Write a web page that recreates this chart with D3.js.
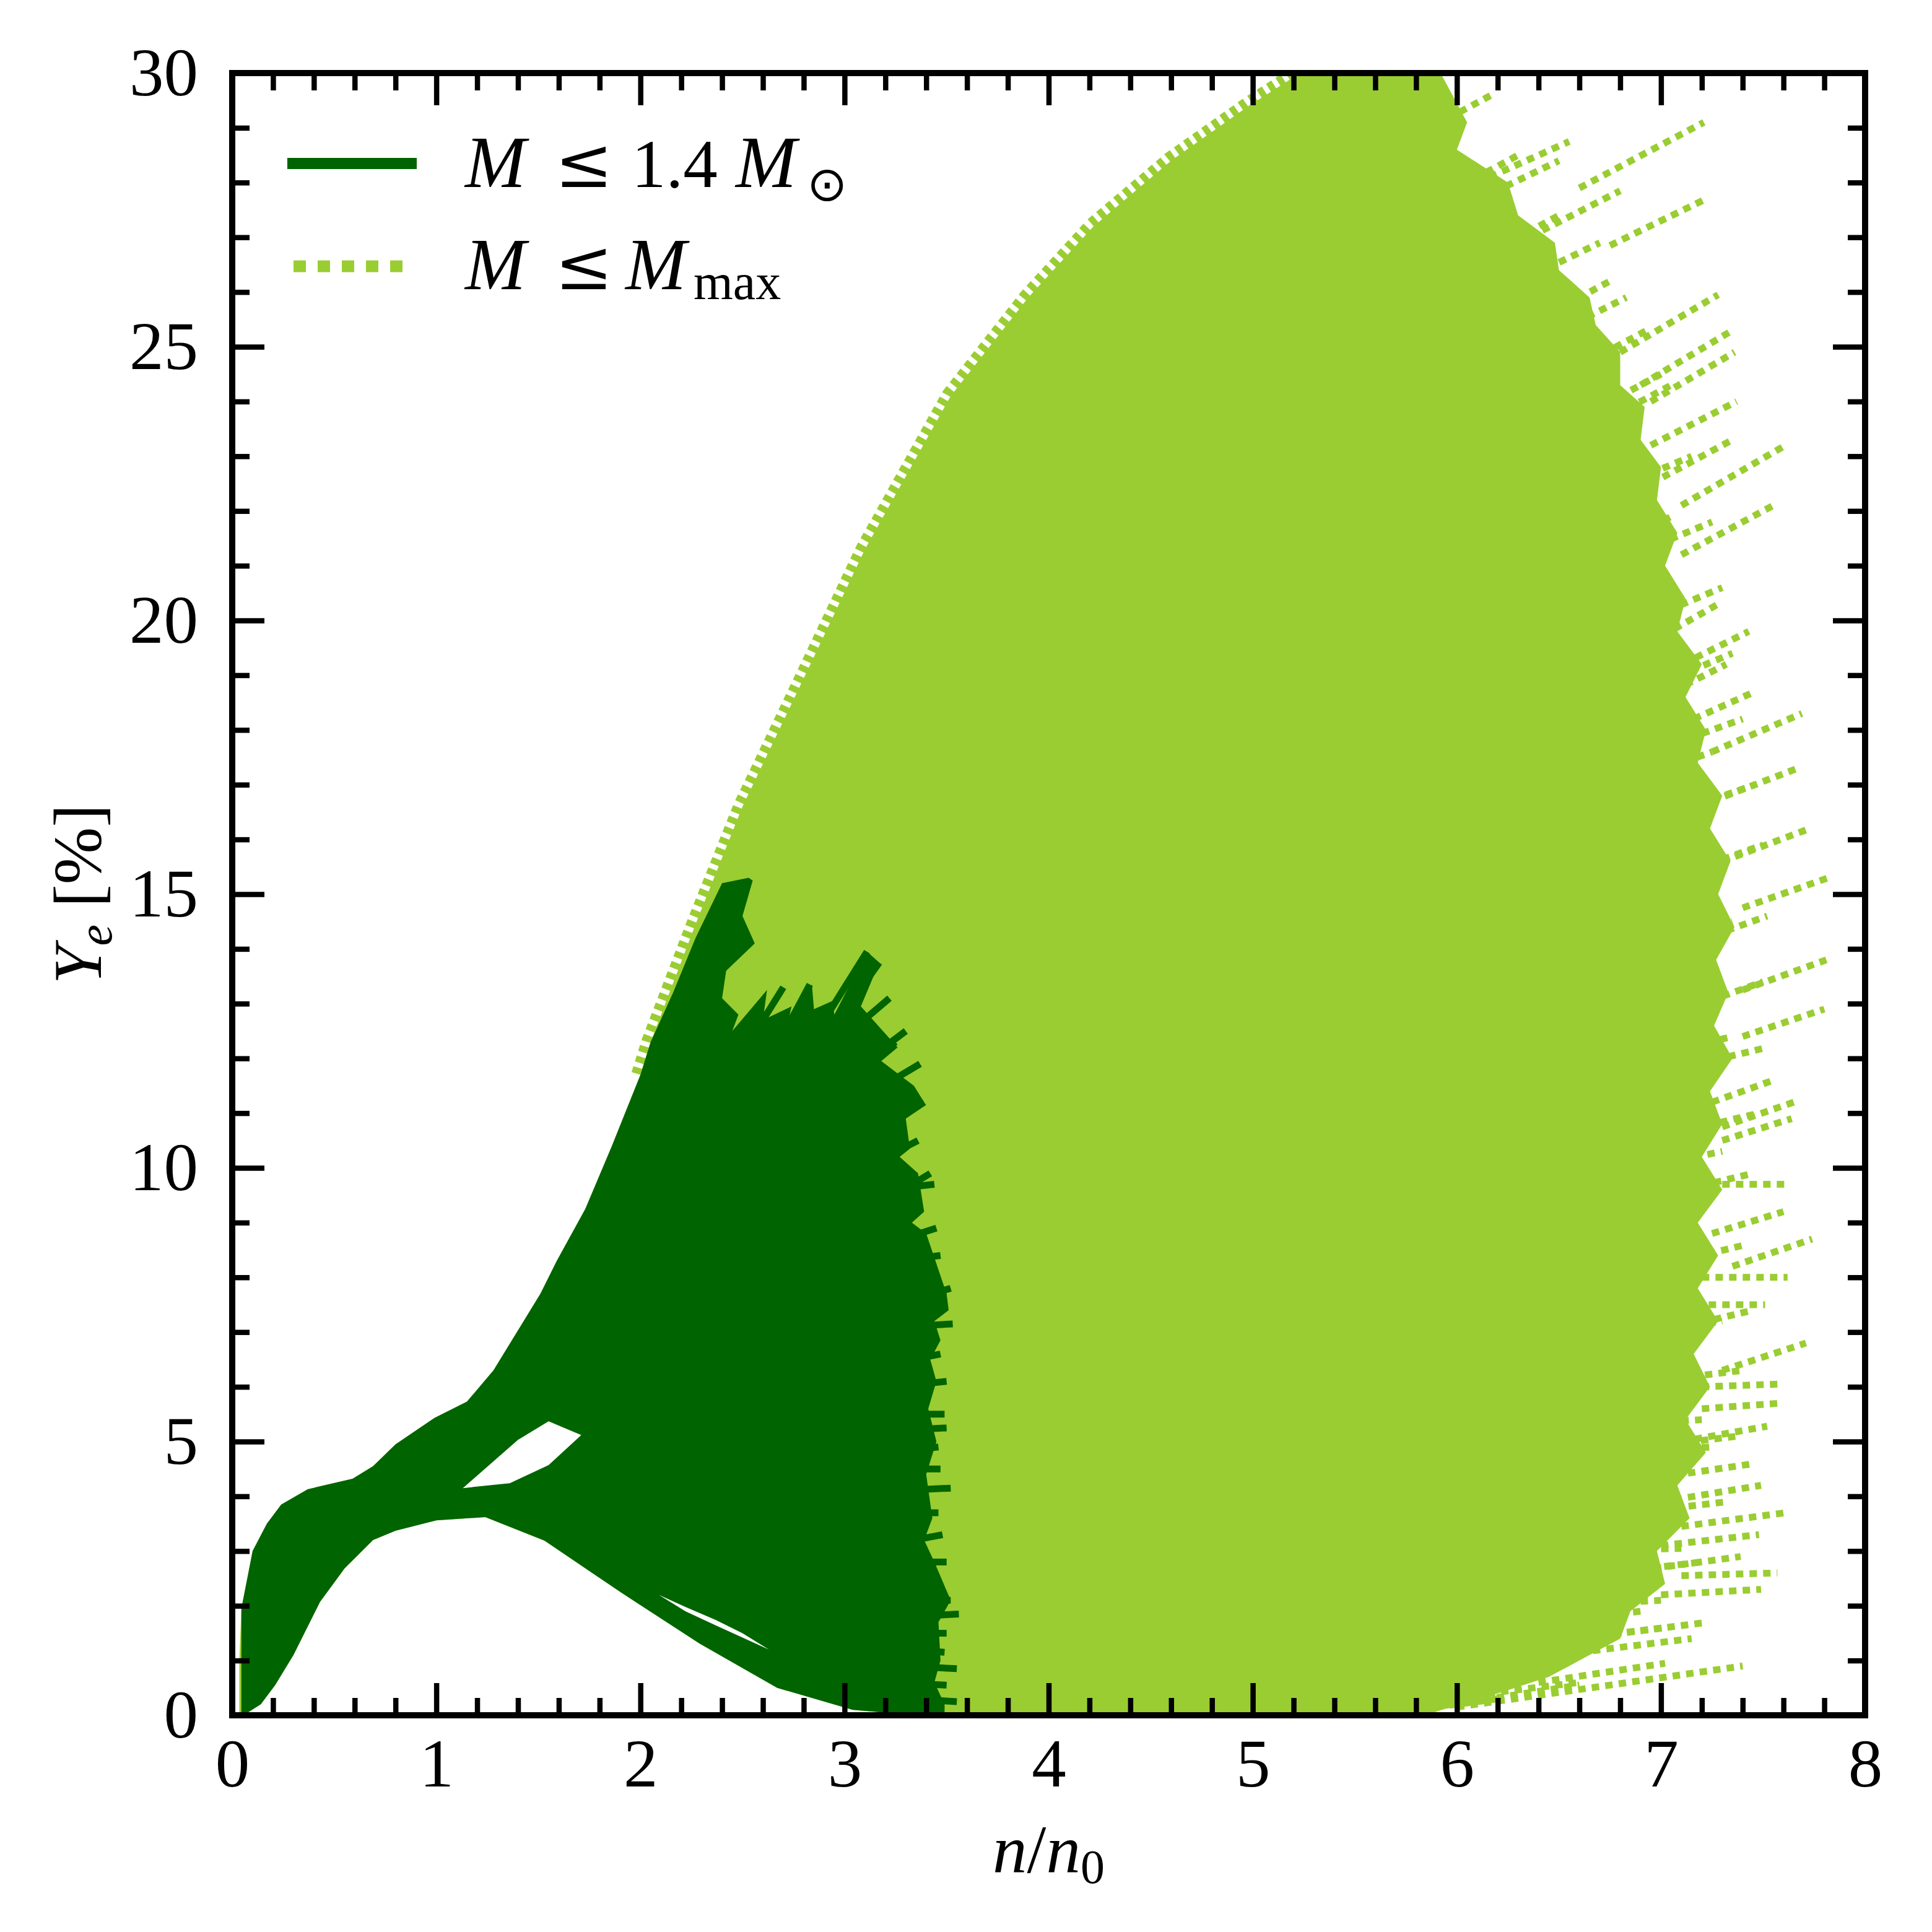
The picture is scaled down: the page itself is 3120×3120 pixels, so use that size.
<!DOCTYPE html>
<html>
<head>
<meta charset="utf-8">
<script src="https://cdn.jsdelivr.net/npm/d3@7"></script>
<style>
  html, body { margin: 0; padding: 0; background: #fff; }
  svg { display: block; }
  text { font-family: "Liberation Serif", "DejaVu Serif", serif; fill: #000; }
</style>
</head>
<body>
<script>
// ---------------- data (n/n0, Ye %) ----------------
const xMajorTicks = [0, 1, 2, 3, 4, 5, 6, 7, 8];
const xTickLabels = ["0", "1", "2", "3", "4", "5", "6", "7", "8"];
const yMajorTicks = [0, 5, 10, 15, 20, 25, 30];
const yTickLabels = ["0", "5", "10", "15", "20", "25", "30"];

// upper envelope of all curves (M <= Mmax)
const lightUpper = [
  [0.035, 0], [0.035, 1.0], [0.045, 1.95], [0.1, 3.0], [0.17, 3.5], [0.24, 3.85],
  [0.37, 4.13], [0.59, 4.32], [0.69, 4.55], [0.8, 4.95], [0.99, 5.43], [1.15, 5.73],
  [1.28, 6.3], [1.51, 7.7], [1.59, 8.3], [1.73, 9.25], [1.86, 10.4], [2.0, 11.7],
  [2.05, 12.3], [2.27, 14.45], [2.5, 16.6], [2.82, 19.1], [3.1, 21.3], [3.52, 24.1],
  [3.9, 25.9], [4.22, 27.2], [4.6, 28.4], [4.98, 29.4], [5.19, 29.9], [5.4, 30.6]
];
// right edge of the dense M <= Mmax bundle, top to bottom
const lightRight = [
  [6.0, 31], [5.92, 30], [6.05, 29.1], [6.0, 28.6], [6.25, 28.0], [6.3, 27.4], [6.48, 26.9],
  [6.5, 26.4], [6.65, 25.9], [6.68, 25.4], [6.8, 24.9], [6.8, 24.3], [6.92, 23.9], [6.9, 23.3],
  [7.0, 22.8], [6.98, 22.2], [7.08, 21.6], [7.02, 21.0], [7.12, 20.4], [7.08, 19.8],
  [7.2, 19.2], [7.12, 18.6], [7.22, 18.0], [7.18, 17.4], [7.3, 16.8], [7.24, 16.2],
  [7.34, 15.6], [7.28, 15.0], [7.36, 14.4], [7.27, 13.8], [7.33, 13.2], [7.26, 12.6],
  [7.35, 12.0], [7.24, 11.4], [7.3, 10.8], [7.2, 10.2], [7.3, 9.6], [7.18, 9.0],
  [7.28, 8.4], [7.18, 7.8], [7.28, 7.2], [7.16, 6.6], [7.24, 6.0], [7.12, 5.4],
  [7.22, 4.8], [7.08, 4.2], [7.14, 3.6], [6.98, 3.0], [7.02, 2.4], [6.85, 1.9],
  [6.8, 1.4], [6.6, 1.0], [6.45, 0.7], [6.2, 0.4], [6.0, 0.2], [5.85, 0]
];
// individual dotted curve ends sticking out of the bundle: [n0, Ye0, n1, Ye1]
const lightTails = [
  [5.3, 28.9, 5.72, 30.2], [5.5, 28.9, 5.95, 30.1], [5.6, 29.2, 5.85, 30.0],
  [6.1, 28.0, 6.55, 28.75], [6.6, 27.9, 7.21, 29.1], [6.3, 26.9, 6.8, 27.85],
  [6.75, 26.85, 7.22, 27.7], [6.4, 25.1, 6.83, 25.9], [6.8, 24.9, 7.28, 25.95],
  [6.9, 24.3, 7.35, 25.3], [6.95, 24.0, 7.36, 24.9], [6.95, 23.2, 7.37, 24.0],
  [6.95, 22.5, 7.35, 23.3], [7.1, 22.1, 7.61, 23.2], [7.1, 21.2, 7.55, 22.1],
  [6.95, 19.6, 7.28, 20.3], [7.05, 19.1, 7.43, 19.8], [7.0, 18.6, 7.32, 19.2],
  [7.1, 18.1, 7.46, 18.7], [7.25, 17.6, 7.69, 18.3], [7.25, 16.7, 7.67, 17.3],
  [7.3, 15.6, 7.73, 16.2], [7.4, 14.75, 7.82, 15.3], [7.4, 13.25, 7.81, 13.8],
  [7.4, 12.4, 7.8, 12.9], [7.25, 11.2, 7.55, 11.6], [7.3, 10.75, 7.65, 11.2],
  [7.3, 10.5, 7.64, 10.9], [7.1, 9.7, 7.61, 9.7], [7.25, 8.8, 7.6, 9.2],
  [7.35, 8.2, 7.74, 8.7], [7.2, 8.0, 7.62, 8.0], [7.1, 7.5, 7.51, 7.5],
  [7.3, 6.3, 7.71, 6.8], [7.2, 6.0, 7.58, 6.05], [7.2, 5.6, 7.58, 5.7],
  [7.1, 5.0, 7.52, 5.28], [7.0, 4.35, 7.46, 4.6], [7.0, 3.9, 7.49, 4.2],
  [7.1, 3.45, 7.61, 3.7], [7.0, 3.1, 7.48, 3.3], [6.9, 2.65, 7.39, 2.9],
  [7.1, 2.55, 7.57, 2.6], [7.0, 2.2, 7.49, 2.3], [6.7, 1.45, 7.23, 1.7],
  [6.6, 1.15, 7.15, 1.4], [6.4, 0.6, 7.02, 0.95], [6.0, 0.15, 7.4, 0.9],
  [5.8, 0.1, 6.6, 0.55], [6.0, 27.5, 6.5, 28.4], [6.2, 26.0, 6.7, 26.9],
  [6.5, 23.5, 7.0, 24.5], [6.6, 21.0, 7.05, 21.9], [6.8, 17.0, 7.25, 17.6],
  [6.9, 14.0, 7.35, 14.5], [6.9, 12.0, 7.35, 12.4], [6.9, 10.0, 7.3, 10.3],
  [6.9, 7.0, 7.3, 7.2], [6.8, 4.8, 7.25, 4.9], [6.5, 2.0, 7.0, 2.1], [6.2, 1.6, 6.9, 1.9],
  [5.7, 0.05, 6.2, 0.3], [6.6, 3.0, 7.1, 3.05], [6.7, 5.3, 7.2, 5.4], [6.75, 9.0, 7.2, 9.3],
  [6.8, 11.0, 7.25, 11.4], [6.75, 15.0, 7.2, 15.6], [6.6, 19.0, 7.05, 19.6],
  [5.72, 28.7, 6.17, 29.6], [5.85, 27.6, 6.3, 28.5], [6.05, 26.5, 6.5, 27.4],
  [6.3, 25.3, 6.75, 26.2], [6.48, 24.4, 6.93, 25.3], [6.6, 23.4, 7.05, 24.3],
  [6.7, 22.3, 7.15, 23.0], [6.8, 21.1, 7.25, 21.8], [6.85, 19.9, 7.3, 20.6],
  [6.9, 18.7, 7.35, 19.4], [6.95, 17.6, 7.4, 18.2], [7.0, 16.4, 7.46, 17.0],
  [7.05, 15.3, 7.5, 15.9], [7.07, 14.0, 7.52, 14.6], [7.05, 12.8, 7.5, 13.4],
  [7.07, 11.8, 7.52, 12.2], [7.03, 10.6, 7.48, 11.0], [7.0, 9.5, 7.45, 9.9],
  [6.97, 8.2, 7.42, 8.6], [7.0, 7.0, 7.45, 7.4], [6.95, 6.1, 7.4, 6.3],
  [6.93, 4.9, 7.38, 5.1], [6.87, 3.7, 7.32, 3.9], [6.75, 2.6, 7.2, 2.8],
  [6.57, 1.4, 7.02, 1.6], [6.15, 0.4, 6.6, 0.6]
];

// M <= 1.4 Msun bundle
const darkUpper = [
  [0.045, 0], [0.045, 1.95], [0.1, 3.0], [0.17, 3.5], [0.24, 3.85], [0.37, 4.13],
  [0.59, 4.32], [0.69, 4.55], [0.8, 4.95], [0.99, 5.43], [1.15, 5.73], [1.28, 6.3],
  [1.51, 7.7], [1.59, 8.3], [1.73, 9.25], [1.86, 10.4], [2.0, 11.7], [2.05, 12.3],
  [2.16, 13.2], [2.27, 14.2], [2.4, 15.2], [2.53, 15.3]
];
const darkRight = [
  [2.55, 15.25], [2.5, 14.6], [2.56, 14.1], [2.42, 13.6], [2.4, 13.1], [2.48, 12.8],
  [2.45, 12.5], [2.62, 13.25], [2.6, 12.7], [2.74, 12.95], [2.72, 12.6], [2.84, 13.35],
  [2.85, 12.9], [2.94, 13.05], [2.95, 12.8], [3.11, 13.95], [3.17, 13.75], [3.08, 12.95],
  [3.26, 12.2], [3.18, 11.95], [3.34, 11.5], [3.39, 11.2], [3.3, 10.9], [3.32, 10.35],
  [3.27, 10.2], [3.36, 9.9], [3.39, 9.2], [3.33, 9.0], [3.4, 8.8], [3.5, 7.7],
  [3.51, 7.4], [3.44, 7.2], [3.47, 6.85], [3.42, 6.5], [3.45, 6.1], [3.41, 5.6],
  [3.45, 5.0], [3.4, 4.4], [3.43, 3.6], [3.39, 3.2], [3.44, 2.8], [3.52, 2.1],
  [3.46, 1.7], [3.47, 1.0], [3.44, 0.6], [3.49, 0.2], [3.49, 0]
];
const darkLower = [
  [0.055, 0], [0.14, 0.2], [0.21, 0.55], [0.3, 1.1], [0.43, 2.07], [0.55, 2.68],
  [0.69, 3.2], [0.8, 3.37], [1.0, 3.56], [1.24, 3.62], [1.53, 3.19], [1.91, 2.23],
  [2.29, 1.31], [2.67, 0.5], [3.04, 0.1], [3.35, 0]
];
// dark curve ends sticking out of the bundle: [n0, Ye0, n1, Ye1]
const darkSpikes = [
  [2.9, 12.7, 3.11, 13.95], [2.95, 12.6, 3.17, 13.75], [3.0, 12.4, 3.22, 13.1],
  [3.05, 11.8, 3.3, 12.5], [3.1, 11.3, 3.37, 11.9], [3.15, 10.6, 3.39, 11.2],
  [2.55, 12.4, 2.7, 13.3], [2.68, 12.3, 2.83, 13.35], [3.2, 9.4, 3.42, 9.9],
  [3.2, 8.6, 3.45, 8.9], [3.25, 7.5, 3.52, 7.8], [3.2, 6.4, 3.47, 6.6],
  [3.2, 4.8, 3.46, 4.9], [3.2, 3.1, 3.48, 3.3], [3.25, 2.1, 3.52, 2.1],
  [3.2, 1.5, 3.5, 1.5], [3.25, 0.6, 3.5, 0.55],
  [3.15, 10.1, 3.36, 10.5], [3.2, 9.6, 3.44, 9.7], [3.25, 8.3, 3.47, 8.4],
  [3.3, 7.1, 3.53, 7.15], [3.25, 6.0, 3.5, 6.1], [3.3, 5.5, 3.49, 5.5],
  [3.25, 5.2, 3.5, 5.25], [3.3, 4.5, 3.47, 4.5], [3.25, 4.1, 3.52, 4.15],
  [3.3, 3.7, 3.46, 3.7], [3.28, 2.8, 3.5, 2.8], [3.3, 2.45, 3.47, 2.4],
  [3.3, 1.8, 3.56, 1.85], [3.3, 1.2, 3.49, 1.15], [3.3, 0.9, 3.55, 0.85],
  [3.3, 0.3, 3.55, 0.25], [2.75, 11.9, 2.95, 13.0], [3.0, 11.6, 3.25, 12.3]
];
// empty gaps between the curves of the 1.4 Msun bundle
const gapUpper = [[1.13, 4.15], [1.36, 4.24], [1.55, 4.57], [1.71, 5.12], [1.55, 5.37], [1.40, 5.03]];
const gapLower = [[2.09, 2.2], [2.22, 1.98], [2.37, 1.74], [2.5, 1.5], [2.63, 1.2], [2.5, 1.42], [2.37, 1.64], [2.22, 1.9]];

// ---------------- drawing ----------------
const W = 3120, H = 3120;
const L = 375, R = 3012, T = 118, B = 2770;
const DARK = "#006400", LIGHT = "#9acd32";

const x = d3.scaleLinear().domain([0, 8]).range([L, R]);
const y = d3.scaleLinear().domain([0, 30]).range([B, T]);

const svg = d3.select("body").append("svg").attr("width", W).attr("height", H);
svg.append("rect").attr("width", W).attr("height", H).attr("fill", "#fff");

svg.append("defs").append("clipPath").attr("id", "plotclip")
  .append("rect").attr("x", L).attr("y", T).attr("width", R - L).attr("height", B - T);

const line = d3.line().x(d => x(d[0])).y(d => y(d[1]));
const g = svg.append("g").attr("clip-path", "url(#plotclip)");
const lowerRev = darkLower.slice().reverse();

// light bundle
g.append("path").attr("d", line(lightUpper.concat(lightRight, lowerRev)) + "Z").attr("fill", LIGHT);
g.append("path").attr("d", line(lightUpper.slice(17)))
  .attr("fill", "none").attr("stroke", LIGHT).attr("stroke-width", 30)
  .attr("stroke-dasharray", "10,8");
g.selectAll("line.lt").data(lightTails).enter().append("line")
  .attr("x1", d => x(d[0])).attr("y1", d => y(d[1]))
  .attr("x2", d => x(d[2])).attr("y2", d => y(d[3]))
  .attr("stroke", LIGHT).attr("stroke-width", 11).attr("stroke-dasharray", "12,10");

// dark bundle
g.append("path").attr("d", line(darkUpper.concat(darkRight, lowerRev)) + "Z").attr("fill", DARK);
g.selectAll("line.ds").data(darkSpikes).enter().append("line")
  .attr("x1", d => x(d[0])).attr("y1", d => y(d[1]))
  .attr("x2", d => x(d[2])).attr("y2", d => y(d[3]))
  .attr("stroke", DARK).attr("stroke-width", 11);
g.append("path").attr("d", line(gapUpper) + "Z").attr("fill", "#fff");
g.append("path").attr("d", line(gapLower) + "Z").attr("fill", "#fff");

// ---------------- axes ----------------
const FS = 111;
const xMinor = d3.range(0, 8.001, 0.2).filter(v => Math.abs(v - Math.round(v)) > 1e-6);
const yMinor = d3.range(0, 30.001, 1).filter(v => v % 5 !== 0);

function styleAxis(sel) {
  sel.select(".domain").remove();
  sel.selectAll(".tick line").attr("stroke", "#000").attr("stroke-width", 8.5);
  sel.selectAll("text").attr("font-size", FS).attr("font-family", "Liberation Serif, DejaVu Serif, serif").attr("fill", "#000");
}
svg.append("g").attr("transform", `translate(0,${B})`)
  .call(d3.axisBottom(x).tickValues(xMajorTicks).tickFormat((d, i) => xTickLabels[i]).tickSize(-52).tickPadding(36))
  .call(styleAxis);
svg.append("g").attr("transform", `translate(0,${B})`)
  .call(d3.axisBottom(x).tickValues(xMinor).tickFormat("").tickSize(-28)).call(styleAxis);
svg.append("g").attr("transform", `translate(0,${T})`)
  .call(d3.axisTop(x).tickValues(xMajorTicks).tickFormat("").tickSize(-52)).call(styleAxis);
svg.append("g").attr("transform", `translate(0,${T})`)
  .call(d3.axisTop(x).tickValues(xMinor).tickFormat("").tickSize(-28)).call(styleAxis);
svg.append("g").attr("transform", `translate(${L},0)`)
  .call(d3.axisLeft(y).tickValues(yMajorTicks).tickFormat((d, i) => yTickLabels[i]).tickSize(-52).tickPadding(55))
  .call(styleAxis);
svg.append("g").attr("transform", `translate(${L},0)`)
  .call(d3.axisLeft(y).tickValues(yMinor).tickFormat("").tickSize(-28)).call(styleAxis);
svg.append("g").attr("transform", `translate(${R},0)`)
  .call(d3.axisRight(y).tickValues(yMajorTicks).tickFormat("").tickSize(-52)).call(styleAxis);
svg.append("g").attr("transform", `translate(${R},0)`)
  .call(d3.axisRight(y).tickValues(yMinor).tickFormat("").tickSize(-28)).call(styleAxis);

svg.append("rect").attr("x", L).attr("y", T).attr("width", R - L).attr("height", B - T)
  .attr("fill", "none").attr("stroke", "#000").attr("stroke-width", 10);

// axis titles
const xt = svg.append("text").attr("x", (L + R) / 2).attr("y", 3024)
  .attr("text-anchor", "middle").attr("font-size", FS);
xt.append("tspan").attr("font-style", "italic").text("n");
xt.append("tspan").text("/");
xt.append("tspan").attr("font-style", "italic").text("n");
xt.append("tspan").attr("font-size", 78).attr("dy", 17).text("0");

const yt = svg.append("text").attr("transform", `translate(163,${(T + B) / 2}) rotate(-90)`)
  .attr("text-anchor", "middle").attr("font-size", FS);
yt.append("tspan").attr("font-style", "italic").text("Y");
yt.append("tspan").attr("font-style", "italic").attr("font-size", 78).attr("dy", 17).text("e");
yt.append("tspan").attr("dy", -17).text("\u00a0[%]");

// legend
svg.append("line").attr("x1", 464).attr("x2", 673).attr("y1", 264).attr("y2", 264)
  .attr("stroke", DARK).attr("stroke-width", 18);
svg.append("line").attr("x1", 474).attr("x2", 662).attr("y1", 430).attr("y2", 430)
  .attr("stroke", LIGHT).attr("stroke-width", 19).attr("stroke-dasharray", "20,19");

const l1 = svg.append("text").attr("x", 751).attr("y", 302).attr("font-size", FS);
l1.append("tspan").attr("font-style", "italic").attr("font-size", 118).text("M");
l1.append("tspan").attr("x", 896).attr("font-family", "DejaVu Serif").attr("font-size", 112).text("\u2264");
l1.append("tspan").attr("x", 1020).text("1.4");
l1.append("tspan").attr("x", 1188).attr("font-style", "italic").attr("font-size", 118).text("M");
l1.append("tspan").attr("x", 1303).attr("dy", 22).attr("font-size", 78)
  .attr("font-family", "DejaVu Sans").text("\u2299");

const l2 = svg.append("text").attr("x", 751).attr("y", 467).attr("font-size", FS);
l2.append("tspan").attr("font-style", "italic").attr("font-size", 118).text("M");
l2.append("tspan").attr("x", 896).attr("font-family", "DejaVu Serif").attr("font-size", 112).text("\u2264");
l2.append("tspan").attr("x", 1010).attr("font-style", "italic").attr("font-size", 118).text("M");
l2.append("tspan").attr("x", 1120).attr("dy", 16).attr("font-size", 82).text("max");
</script>
</body>
</html>
